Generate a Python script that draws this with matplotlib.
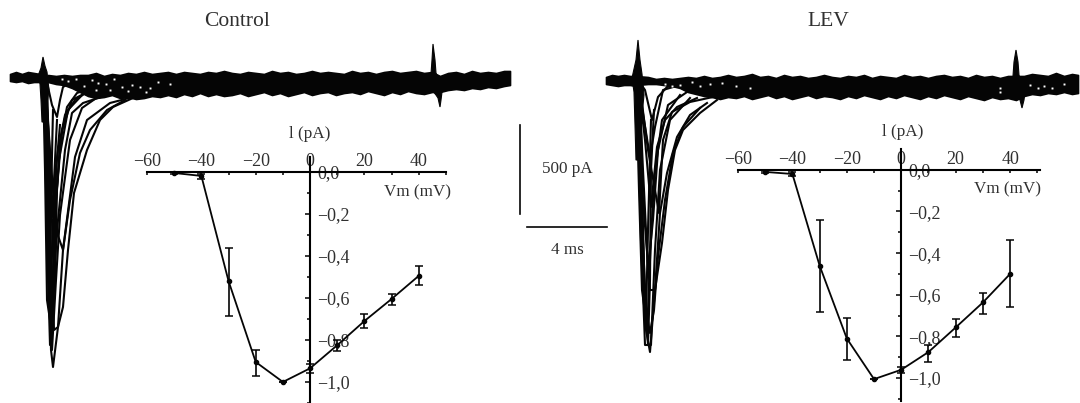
"""
Na+ current traces and I-V curves, Control vs LEV.
The traces come from a scanned figure with no axes, so they are kept in scan pixels (x, y).
"""

import matplotlib
matplotlib.use("Agg")
import matplotlib.pyplot as plt

plt.rcParams['font.family'] = ['Liberation Serif', 'DejaVu Serif']
plt.rcParams['text.color'] = '#303030'

W, H = 1080, 403
LINE = '#050505'
TEXT = '#303030'

# I-V data
VM = [-50, -40, -30, -20, -10, 0, 10, 20, 30, 40]
CTRL_I = [-0.006, -0.02, -0.52, -0.905, -1.0, -0.935, -0.825, -0.71, -0.605, -0.495]
CTRL_TOP = [-0.002, -0.01, -0.365, -0.85, -1.0, -0.915, -0.80, -0.675, -0.58, -0.45]
CTRL_BOT = [-0.012, -0.035, -0.685, -0.97, -1.0, -0.955, -0.855, -0.745, -0.635, -0.54]
LEV_I = [-0.01, -0.02, -0.46, -0.81, -1.005, -0.96, -0.875, -0.757, -0.637, -0.50]
LEV_TOP = [-0.004, -0.01, -0.24, -0.71, -1.005, -0.947, -0.843, -0.717, -0.592, -0.338]
LEV_BOT = [-0.016, -0.03, -0.685, -0.915, -1.005, -0.975, -0.925, -0.803, -0.694, -0.66]

X_TICKS = [-60, -50, -40, -30, -20, -10, 0, 10, 20, 30, 40, 50]
X_LABELS = ['\u221260', '', '\u221240', '', '\u221220', '', '0', '', '20', '', '40', '']
Y_TICKS = [0, -0.2, -0.4, -0.6, -0.8, -1.0]
Y_MINOR = [-0.1, -0.3, -0.5, -0.7, -0.9, -1.1]
Y_LABELS = ['0,0', '\u22120,2', '\u22120,4', '\u22120,6', '\u22120,8', '\u22121,0']

# Noise band of the control traces
CTRL_BAND_X = [48, 56, 64, 72, 80, 88, 96, 104, 112, 120, 128, 136, 144, 152, 160, 168, 176, 184, 192, 200,
               208, 216, 224, 232, 240, 248, 256, 264, 272, 280, 288, 296, 304, 312, 320, 328, 336, 344, 352,
               360, 368, 376, 384, 392, 400, 408, 416, 424, 432, 440, 448, 456, 464, 472, 480, 488, 496, 504, 510]
CTRL_BAND_UP = [75, 76, 75, 76, 75, 75, 73, 76, 74, 75, 73, 74, 72, 74, 73, 72, 74, 72, 73, 74,
                72, 73, 71, 73, 74, 72, 73, 74, 71, 73, 72, 74, 73, 71, 73, 72, 73, 74, 71,
                73, 72, 74, 72, 71, 73, 72, 71, 73, 72, 76, 73, 72, 74, 71, 73, 72, 73, 71, 71]
CTRL_BAND_LOW = [82, 84, 85, 88, 92, 96, 98, 97, 95, 98, 97, 99, 98, 96, 97, 95, 97, 94, 96, 93,
                 96, 94, 96, 95, 93, 96, 94, 92, 95, 93, 96, 94, 92, 95, 93, 92, 95, 93, 92,
                 94, 91, 93, 95, 92, 94, 91, 93, 94, 92, 92, 90, 89, 90, 88, 89, 87, 88, 86, 85]

# Noise band of the LEV traces
LEV_BAND_X = [636, 648, 656, 664, 672, 680, 688, 696, 704, 712, 720, 728, 736, 744, 752, 760, 768, 776, 784, 792,
              800, 808, 816, 824, 832, 840, 848, 856, 864, 872, 880, 888, 896, 904, 912, 920, 928, 936, 944,
              952, 960, 968, 976, 984, 992, 1000, 1008, 1016, 1024, 1032, 1040, 1048, 1056, 1064, 1072, 1078]
LEV_BAND_UP = [76, 77, 79, 78, 79, 78, 77, 78, 76, 78, 77, 75, 77, 76, 74, 77, 76, 78, 75, 77,
               76, 78, 77, 75, 77, 78, 76, 77, 75, 78, 76, 77, 78, 75, 77, 76, 78, 76, 75,
               77, 76, 78, 75, 77, 76, 78, 76, 76, 76, 74, 75, 76, 73, 76, 74, 75]
LEV_BAND_LOW = [85, 84, 84, 85, 86, 88, 92, 94, 96, 97, 99, 97, 98, 96, 99, 97, 95, 98, 96, 99,
                97, 95, 98, 96, 97, 99, 96, 98, 95, 97, 99, 96, 98, 95, 97, 99, 96, 98, 95,
                97, 99, 96, 98, 100, 97, 99, 98, 100, 96, 94, 95, 93, 94, 92, 94, 93]

# Baseline ahead of the pulse: x, top, bottom
CTRL_STUB = [10, 16, 22, 28, 34, 40], [74, 72, 74, 72, 73, 74], [81, 82, 81, 83, 82, 82]
LEV_STUB = [606, 612, 618, 624, 630, 636], [77, 75, 76, 75, 76, 76], [84, 85, 86, 85, 85, 86]

# Each trace is one list of (x, y) on the scan, going through its peak
CTRL_TRACES = [
    [(45, 78), (48, 87), (52, 105), (57, 117), (60, 100), (63, 87), (72, 82), (85, 79)],
    [(45, 78), (49, 140), (53, 217), (55, 175), (58, 150), (65, 115), (75, 100), (90, 90), (115, 84)],
    [(45, 78), (50, 180), (55, 280), (57, 190), (60, 143), (67, 107), (77, 93), (100, 85)],
    [(45, 78), (48, 190), (52, 300), (58, 220), (65, 150), (72, 113), (83, 103), (113, 93)],
    [(45, 78), (49, 200), (54, 330), (58, 327), (63, 250), (75, 157), (87, 120), (110, 103), (133, 97)],
    [(45, 78), (48, 200), (51, 350), (53, 367), (58, 327), (63, 307), (68, 250), (74, 193), (87, 150), (100, 120),
     (113, 107), (133, 98)],
    [(45, 78), (50, 150), (56, 230), (63, 250), (70, 200), (80, 153), (90, 130), (107, 110), (125, 100)],
    [(44, 78), (47, 240), (50, 345), (52, 300), (56, 200), (62, 130), (72, 100), (95, 88)],
    [(44, 78), (46, 180), (49, 300), (53, 240), (59, 160), (68, 110), (85, 92)],
    [(46, 78), (49, 230), (52, 350), (56, 280), (60, 215), (70, 140), (82, 108), (105, 92)],
    [(46, 78), (47, 170), (48, 260), (51, 340), (53, 300), (54, 180), (57, 120)],
    [(47, 78), (49, 160), (51, 260), (53, 320), (55, 260), (56, 170), (60, 125)],
    [(43, 78), (45, 170), (47, 300), (50, 320), (51, 200), (53, 110)],
]
LEV_TRACES = [
    [(638, 80), (645, 90), (652, 120), (658, 97), (667, 87), (687, 83)],
    [(638, 80), (644, 120), (650, 157), (655, 127), (663, 90), (680, 85), (700, 84)],
    [(638, 80), (645, 140), (651, 207), (657, 147), (665, 120), (677, 107), (697, 98)],
    [(639, 80), (648, 150), (659, 213), (663, 140), (672, 112), (690, 102), (713, 97)],
    [(638, 80), (643, 200), (650, 290), (655, 290), (660, 213), (667, 173), (677, 137), (690, 115), (707, 103)],
    [(638, 80), (642, 200), (646, 330), (650, 352), (655, 290), (662, 243), (668, 190), (675, 150), (683, 130),
     (700, 113), (717, 100)],
    [(638, 80), (642, 220), (646, 310), (650, 333), (654, 310), (658, 257), (665, 200), (673, 153), (683, 127),
     (700, 108)],
    [(637, 80), (640, 180), (644, 300), (647, 335), (650, 260), (654, 180), (662, 120), (680, 95)],
    [(637, 80), (641, 240), (645, 345), (651, 345), (655, 250), (660, 170), (670, 120), (690, 98)],
    [(639, 80), (643, 170), (648, 270), (653, 220), (658, 150), (668, 105), (690, 90)],
    [(640, 80), (642, 180), (644, 280), (648, 345), (650, 280), (651, 170), (654, 110)],
    [(636, 80), (639, 190), (642, 290), (646, 320), (648, 230), (651, 120)],
]

# Little holes in the noise band
CTRL_SPECK_X = [62, 68, 76, 84, 92, 98, 106, 114, 122, 132, 140, 150, 158, 170, 96, 110, 128, 146]
CTRL_SPECK_Y = [79, 81, 79, 86, 80, 83, 84, 79, 87, 85, 87, 88, 82, 84, 90, 90, 91, 92]
LEV_SPECK_X = [665, 672, 680, 692, 700, 710, 722, 736, 750, 1000, 1030, 1038, 1044, 1052, 1064, 1000]
LEV_SPECK_Y = [84, 86, 85, 82, 86, 84, 83, 86, 88, 88, 85, 88, 86, 88, 84, 92]


def draw_traces(ax, traces, band_x, band_up, band_low, stub, spike, artifact, speck_x, speck_y):
    ax.fill_between(stub[0], stub[1], stub[2], color=LINE, lw=1.2)
    ax.fill_between(band_x, band_up, band_low, color=LINE, lw=1.2)
    for trace in traces:
        ax.plot([p[0] for p in trace], [p[1] for p in trace], color=LINE, lw=1.5)
    ax.plot(speck_x, speck_y, ls='none', marker='s', ms=1.4, mew=0, color='white')
    ax.fill(spike[0], spike[1], color=LINE, lw=0.8)
    ax.fill(artifact[0], artifact[1], color=LINE, lw=0.8)


def draw_iv(rect, xlim, ylim, current, top, bottom):
    ax = fig.add_axes([rect[0] / W, 1 - rect[3] / H, (rect[2] - rect[0]) / W, (rect[3] - rect[1]) / H])
    ax.patch.set_alpha(0)
    ax.set_xlim(xlim)
    ax.set_ylim(ylim)
    for side in ['left', 'bottom']:
        ax.spines[side].set_visible(False)
    ax.spines['top'].set_position(('data', 0))
    ax.spines['right'].set_position(('data', 0))
    ax.spines['top'].set_linewidth(1.5)
    ax.spines['right'].set_linewidth(1.5)
    ax.xaxis.tick_top()
    ax.yaxis.tick_right()
    ax.set_xticks(X_TICKS)
    ax.set_xticklabels(X_LABELS, fontsize=13, color=TEXT)
    ax.set_yticks(Y_TICKS)
    ax.set_yticklabels(Y_LABELS, fontsize=13, color=TEXT)
    ax.set_yticks(Y_MINOR, minor=True)
    ax.tick_params(axis='x', direction='in', length=2.5, width=1.1, pad=1.5)
    ax.tick_params(axis='y', direction='in', length=3.5, width=1.1, pad=5)
    ax.tick_params(axis='y', which='minor', direction='in', length=2, width=1.1)
    low = [c - b for c, b in zip(current, bottom)]
    high = [t - c for c, t in zip(current, top)]
    ax.errorbar(VM, current, yerr=[low, high], color=LINE, lw=1.3, elinewidth=1.2, capsize=3, capthick=1.1,
                marker='o', ms=3, clip_on=False)
    return ax


fig = plt.figure(figsize=(W / 100, H / 100), dpi=100)
bg = fig.add_axes([0, 0, 1, 1])
bg.set_xlim(0, W)
bg.set_ylim(H, 0)
bg.axis('off')

draw_traces(bg, CTRL_TRACES, CTRL_BAND_X, CTRL_BAND_UP, CTRL_BAND_LOW, CTRL_STUB,
            ([43, 45, 47, 49, 46, 44, 42, 41, 40, 38, 41], [57, 66, 72, 90, 110, 122, 122, 100, 84, 76, 68]),
            ([433, 435, 436, 438, 442, 441, 440, 438, 436, 432, 431, 432], [44, 60, 73, 78, 92, 100, 107, 98, 95, 90, 74, 60]),
            CTRL_SPECK_X, CTRL_SPECK_Y)
draw_traces(bg, LEV_TRACES, LEV_BAND_X, LEV_BAND_UP, LEV_BAND_LOW, LEV_STUB,
            ([638, 640, 642, 644, 641, 638, 636, 635, 634, 632, 636], [40, 60, 74, 95, 125, 160, 160, 125, 92, 78, 60]),
            ([1016, 1018, 1019, 1020, 1025, 1024, 1022, 1020, 1018, 1013, 1013, 1014], [50, 62, 75, 78, 92, 100, 108, 100, 98, 92, 76, 62]),
            LEV_SPECK_X, LEV_SPECK_Y)

draw_iv((147, 157, 446, 403), (-60, 50), (-1.1, 0.07), CTRL_I, CTRL_TOP, CTRL_BOT)
draw_iv((738, 149, 1040, 401), (-60, 51), (-1.11, 0.1), LEV_I, LEV_TOP, LEV_BOT)

# Scale bars
bg.plot([520, 520], [125, 214], color=LINE, lw=1.2)
bg.plot([527, 607], [227, 227], color=LINE, lw=1.2)

# Labels
bg.text(237, 22, 'Control', fontsize=15.5, ha='center', va='center')
bg.text(828, 22, 'LEV', fontsize=15.5, ha='center', va='center')
bg.text(567, 169, '500 pA', fontsize=12.3, ha='center', va='center')
bg.text(567, 250, '4 ms', fontsize=12.3, ha='center', va='center')
bg.text(310, 134, 'l (pA)', fontsize=12.3, ha='center', va='center')
bg.text(903, 132, 'l (pA)', fontsize=12.3, ha='center', va='center')
bg.text(418, 192, 'Vm (mV)', fontsize=12.3, ha='center', va='center')
bg.text(1008, 189, 'Vm (mV)', fontsize=12.3, ha='center', va='center')

fig.savefig('out.png', dpi=100)
